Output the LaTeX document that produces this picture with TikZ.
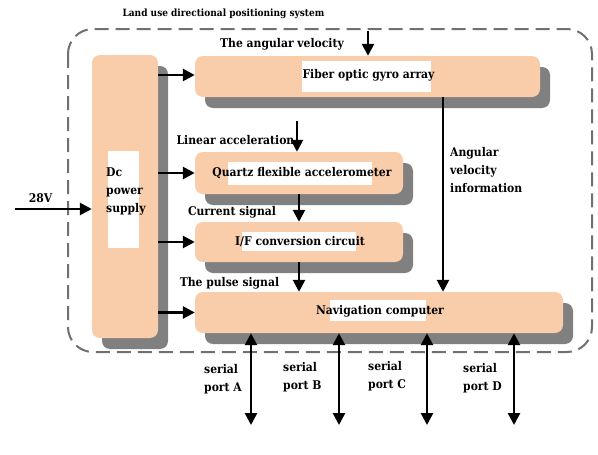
\documentclass[tikz,border=0pt]{standalone}
\usepackage{fontspec}
\setmainfont{DejaVu Serif}[FakeStretch=0.9]
\usetikzlibrary{arrows.meta,shadows}
\definecolor{peach}{RGB}{249,205,169}
\definecolor{shad}{RGB}{128,128,128}
\definecolor{dashc}{RGB}{112,112,112}
\begin{document}
\begin{tikzpicture}[x=1pt,y=-1pt,
  box/.style={fill=peach, rounded corners=8pt, draw=none, inner sep=0pt,
    drop shadow={shadow xshift=10pt, shadow yshift=-11pt, fill=shad, opacity=1}},
  lbl/.style={font=\fontsize{12}{18}\selectfont\bfseries, inner sep=0pt},
  ttl/.style={font=\fontsize{10}{12}\selectfont\bfseries, inner sep=0pt},
  arr/.style={line width=2.6pt, -{Triangle[length=12pt,width=12pt]}},
  darr/.style={line width=2.6pt, {Triangle[length=12pt,width=12pt]}-{Triangle[length=12pt,width=12pt]}}]
\useasboundingbox (0,0) rectangle (598,455);
\fill[white] (0,0) rectangle (598,455);
% title and frame
\node[ttl] (title) at (223.5,14) {Land use directional positioning system};
\draw[dashc, line width=2pt, dash pattern=on 14pt off 7pt, rounded corners=25pt] (68,29) rectangle (592,352);
% boxes
\node[box, minimum width=66pt, minimum height=283pt] (dc) at (125,196.5) {};
\node[box, minimum width=345pt, minimum height=41pt] (gyro) at (367.5,76.5) {};
\node[box, minimum width=208pt, minimum height=42pt] (quartz) at (299,173) {};
\node[box, minimum width=208pt, minimum height=40pt] (ifc) at (299,242) {};
\node[box, minimum width=368pt, minimum height=41pt] (nav) at (379,312.5) {};
% white backgrounds
\fill[white] (108,151) rectangle (139,248);
\fill[white] (302,61) rectangle (431,92);
\fill[white] (228,162) rectangle (372,185);
\fill[white] (242,232) rectangle (356,251);
\fill[white] (330,300) rectangle (426,321);
% box texts
\node[lbl, align=left, anchor=west] (dct) at (106,191) {Dc\\power\\supply};
\node[lbl] (gyrot) at (368.5,75) {Fiber optic gyro array};
\node[lbl] (quartzt) at (302,173) {Quartz flexible accelerometer};
\node[lbl] (ifct) at (300,241) {I/F conversion circuit};
\node[lbl] (navt) at (380,311) {Navigation computer};
% labels
\node[lbl] (l1) at (282,44) {The angular velocity};
\node[lbl] (l2) at (235.5,140) {Linear acceleration};
\node[lbl] (l3) at (232,212) {Current signal};
\node[lbl] (l4) at (229.5,283) {The pulse signal};
\node[lbl] (l5) at (40.5,198) {28V};
\node[lbl, align=left, anchor=west] (l6) at (450,170) {Angular\\velocity\\information};
\node[lbl, align=left, anchor=west] (sa) at (204,379) {serial\\port A};
\node[lbl, align=left, anchor=west] (sb) at (283,377) {serial\\port B};
\node[lbl, align=left, anchor=west] (sc) at (368,376) {serial\\port C};
\node[lbl, align=left, anchor=west] (sd) at (463,378) {serial\\port D};
% connector coordinates
\coordinate (in28) at (15,209);
\coordinate (avin) at (368,31);
\coordinate (lain) at (297,121);
\coordinate (avx) at (443,0);
\coordinate (pa) at (251,425);
\coordinate (pb) at (339,425);
\coordinate (pc) at (427,425);
\coordinate (pd) at (514,425);
% connectors
\draw[arr] (dc.east |- gyrot.center) -- (gyro.west |- gyrot.center);
\draw[arr] (dc.east |- quartz.west) -- (quartz.west);
\draw[arr] (dc.east |- ifc.west) -- (ifc.west);
\draw[arr] (dc.east |- nav.west) -- (nav.west);
\draw[arr] (in28) -- (in28 -| dc.west);
\draw[arr] (avin) -- (avin |- gyro.north);
\draw[arr] (lain) -- (lain |- quartz.north);
\draw[arr] (quartz.south) -- (ifc.north);
\draw[arr] (ifc.south) -- (ifc.south |- nav.north);
\draw[arr] (gyro.south -| avx) -- (nav.north -| avx);
\draw[darr] (nav.south -| pa) -- (pa);
\draw[darr] (nav.south -| pb) -- (pb);
\draw[darr] (nav.south -| pc) -- (pc);
\draw[darr] (nav.south -| pd) -- (pd);
\end{tikzpicture}
\end{document}
